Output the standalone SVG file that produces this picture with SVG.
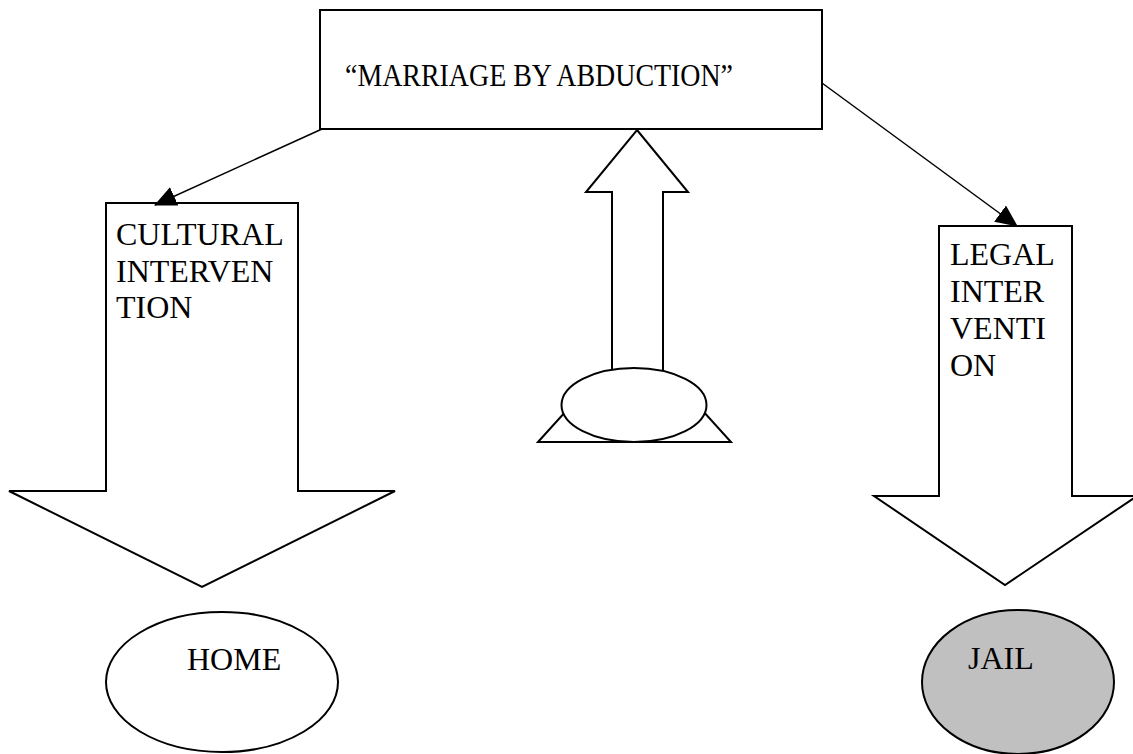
<svg xmlns="http://www.w3.org/2000/svg" width="1133" height="754" viewBox="0 0 1133 754">
  <style>
    .shape { fill: #ffffff; stroke: #000000; stroke-width: 2; }
    .gray { fill: #c0c0c0; stroke: #000000; stroke-width: 2; }
    .lbl { font-family: "Liberation Serif", "Times New Roman", serif; font-size: 32px; fill: #000000; }
    .conn { stroke: #000000; stroke-width: 1.5; fill: none; }
  </style>
  <defs>
    <marker id="ah" markerUnits="userSpaceOnUse" markerWidth="22" markerHeight="20" refX="21" refY="10" orient="auto">
      <path d="M0,0 L22,10 L0,20 z" fill="#000000"/>
    </marker>
  </defs>
  <rect width="1133" height="754" fill="#ffffff"/>

  <g id="marriage">
    <rect class="shape" x="320" y="10" width="502" height="119"/>
    <text class="lbl" x="345" y="86" font-size="31" textLength="388" lengthAdjust="spacingAndGlyphs">“MARRIAGE BY ABDUCTION”</text>
  </g>

  <g id="cultural">
    <polygon class="shape" points="106,203 298,203 298,491 395,491 202,587 9,491 106,491"/>
    <text class="lbl" x="116" y="245">CULTURAL</text>
    <text class="lbl" x="116" y="282">INTERVEN</text>
    <text class="lbl" x="116" y="318">TION</text>
  </g>

  <g id="legal">
    <polygon class="shape" points="939,226 1072,226 1072,496 1137,496 1005,585 874,496 939,496"/>
    <text class="lbl" x="950" y="265">LEGAL</text>
    <text class="lbl" x="950" y="302">INTER</text>
    <text class="lbl" x="950" y="339">VENTI</text>
    <text class="lbl" x="950" y="376">ON</text>
  </g>

  <g id="support">
    <polygon class="shape" points="538,442 576,400 693,400 731,442"/>
    <polygon class="shape" points="637,130 688,192 663,192 663,385 612,385 612,192 586,192"/>
    <ellipse class="shape" cx="634" cy="405" rx="72.5" ry="37"/>
  </g>

  <g id="home">
    <ellipse class="shape" cx="222" cy="682" rx="116" ry="70"/>
    <text class="lbl" x="187" y="670">HOME</text>
  </g>

  <g id="jail">
    <ellipse class="gray" cx="1018" cy="682" rx="96" ry="72"/>
    <text class="lbl" x="968" y="669">JAIL</text>
  </g>

  <g id="connectors">
    <line class="conn" x1="322" y1="129" x2="155" y2="205" marker-end="url(#ah)"/>
    <line class="conn" x1="822" y1="83" x2="1017" y2="226" marker-end="url(#ah)"/>
  </g>
</svg>
